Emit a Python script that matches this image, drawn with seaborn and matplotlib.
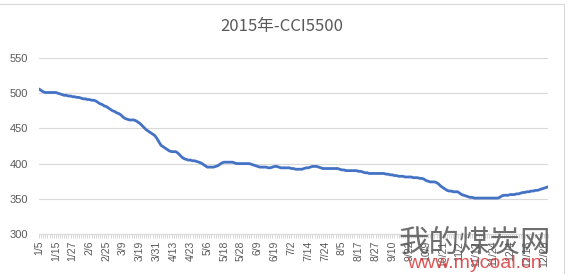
import matplotlib
matplotlib.use("Agg")
import matplotlib.pyplot as plt
from matplotlib.patches import Rectangle
import seaborn as sns
import pandas as pd
import numpy as np

title = "2015年-CCI5500"
tick_labels = ["1/5", "1/15", "1/27", "2/6", "2/25", "3/9", "3/19", "3/31", "4/13", "4/23",
               "5/6", "5/18", "5/28", "6/9", "6/19", "7/2", "7/14", "7/24", "8/5", "8/17",
               "8/27", "9/10", "9/22", "10/9", "10/21", "11/2", "11/12", "11/24", "12/4",
               "12/16", "12/28"]
label_step = 8
prices = [
    506, 504, 502, 501, 501, 501, 501, 501, 501, 500,
    499, 498, 497, 497, 496, 496, 495, 495, 494, 494,
    493, 492, 492, 491, 491, 490, 490, 489, 487, 485,
    484, 482, 481, 479, 477, 475, 474, 472, 471, 469,
    466, 464, 463, 462, 462, 462, 461, 459, 457, 454,
    451, 448, 446, 444, 442, 440, 436, 431, 426, 424,
    422, 420, 418, 417, 417, 417, 415, 412, 409, 407,
    406, 405, 405, 404, 404, 403, 402, 401, 399, 397,
    395, 395, 395, 395, 396, 397, 399, 401, 402, 402,
    402, 402, 402, 401, 400, 400, 400, 400, 400, 400,
    400, 399, 398, 397, 396, 395, 395, 395, 395, 394,
    394, 395, 396, 396, 395, 394, 394, 394, 394, 394,
    393, 393, 392, 392, 392, 392, 393, 394, 394, 395,
    396, 396, 396, 395, 394, 393, 393, 393, 393, 393,
    393, 393, 393, 392, 391, 391, 390, 390, 390, 390,
    390, 390, 389, 389, 388, 387, 387, 386, 386, 386,
    386, 386, 386, 386, 386, 385, 385, 384, 384, 383,
    383, 382, 382, 382, 381, 381, 381, 381, 380, 380,
    380, 379, 379, 378, 376, 375, 374, 374, 374, 373,
    371, 368, 366, 364, 362, 361, 361, 360, 360, 360,
    358, 356, 355, 354, 353, 352, 352, 351, 351, 351,
    351, 351, 351, 351, 351, 351, 351, 351, 351, 352,
    354, 355, 355, 355, 356, 356, 356, 357, 357, 358,
    359, 359, 360, 360, 361, 361, 362, 362, 363, 364,
    365, 366, 367,
]
yticks = [300, 350, 400, 450, 500, 550]

sns.set_theme(style="white")
plt.rcParams['font.family'] = ['Noto Sans CJK SC', 'DejaVu Sans']

df = pd.DataFrame({"idx": np.arange(len(prices)), "price": prices})

fig = plt.figure(figsize=(5.71, 2.74), dpi=100)
ax = fig.add_axes([39/571, 1 - 234/274, (548 - 39)/571, (234 - 58)/274])

sns.lineplot(data=df, x="idx", y="price", ax=ax, color="#4472C4", linewidth=2.0)

ax.set_xlim(0, len(prices) - 1)
ax.set_ylim(300, 550)
ax.set_yticks(yticks)
ax.set_yticklabels([str(v) for v in yticks], fontsize=8, color="#595959",
                   family=['Liberation Sans', 'DejaVu Sans'])
ax.grid(axis="y", color="#d9d9d9", linewidth=0.8)
ax.set_axisbelow(True)

major_pos = [i * label_step for i in range(len(tick_labels))]
ax.set_xticks(major_pos)
ax.set_xticklabels(tick_labels, rotation=90, fontsize=7.5, color="#595959",
                   family=['Liberation Sans', 'DejaVu Sans'])
ax.set_xticks(np.arange(len(prices)), minor=True)
ax.tick_params(axis="x", which="both", length=3, width=0.6, color="#d0d0d0",
               direction="out", pad=2, bottom=True)
ax.tick_params(axis="y", length=0, pad=8)

for s in ["top", "right", "left"]:
    ax.spines[s].set_visible(False)
ax.spines["bottom"].set_color("#d9d9d9")
ax.spines["bottom"].set_linewidth(0.8)
ax.set_xlabel("")
ax.set_ylabel("")

fig.text(282/571, 1 - 27/274, title, ha="center", va="center", fontsize=12,
         color="#595959")

# chart-area border
fig.patches.append(Rectangle((-0.01, -0.1), (565 + 5)/571, (274 - 4)/274 + 0.1,
                             transform=fig.transFigure, fill=False,
                             edgecolor="#d9d9d9", linewidth=0.8))

# watermark
fig.text(475/571, 1 - 243/274, "我的煤炭网", ha="center", va="center", fontsize=22,
         color="#555555", alpha=0.85)
fig.text(474/571, 1 - 263/274, "www.mycoal.cn", ha="center", va="center", fontsize=14,
         color="#d9383a", alpha=0.85, family=['Liberation Sans', 'DejaVu Sans'])

fig.savefig("out.png", dpi=100)
